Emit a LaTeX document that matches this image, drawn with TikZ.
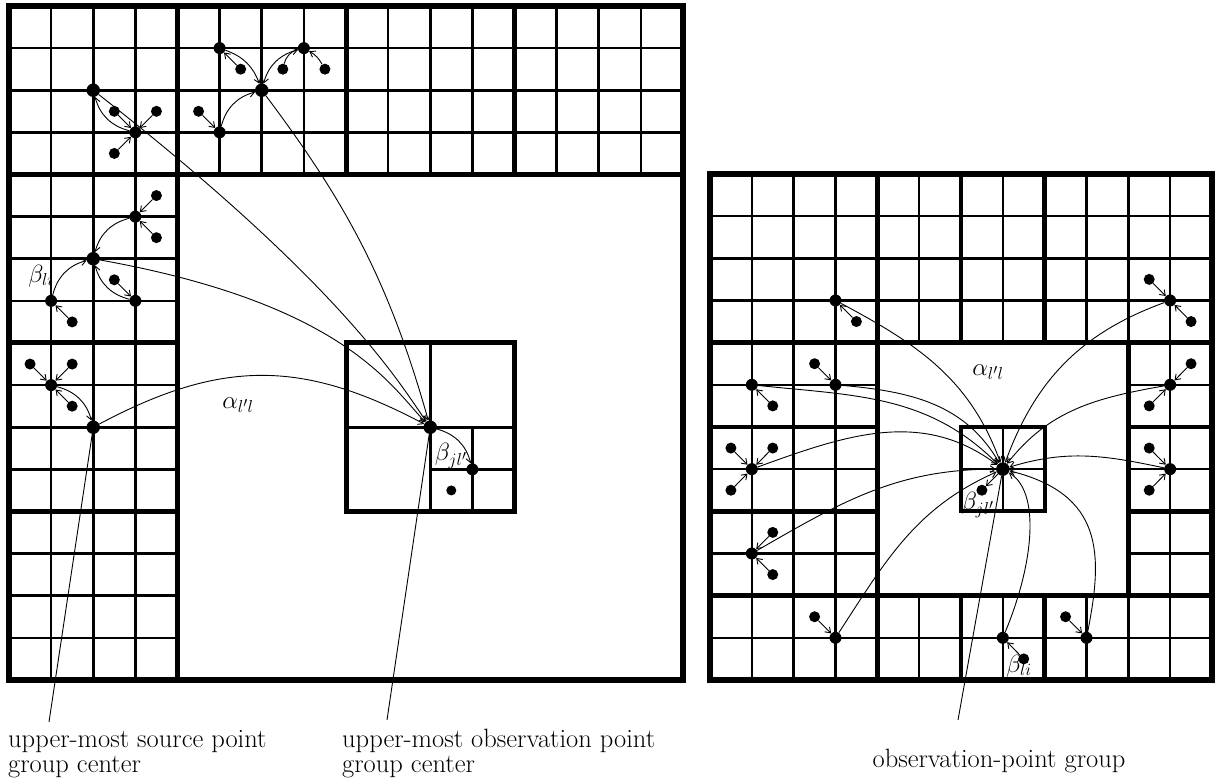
\documentclass[tikz,border=0pt]{standalone}
\usepackage{fontspec}
\usetikzlibrary{arrows.meta}
\begin{document}
\begin{tikzpicture}[x=1pt,y=1pt,
  thinl/.style={line width=2.3pt},
  medl/.style={line width=3.4pt},
  thkl/.style={line width=5pt},
  leaf/.style={circle,fill=black,inner sep=0pt,minimum size=11pt},
  mid/.style={circle,fill=black,inner sep=0pt,minimum size=12pt},
  ctr/.style={circle,fill=black,inner sep=0pt,minimum size=13.5pt},
  arr/.style={line width=0.9pt,-{Straight Barb[length=5pt,width=7pt]}},
  con/.style={line width=0.9pt},
  lbl/.style={inner sep=0pt,font=\fontsize{26.5}{25}\selectfont},
]
\useasboundingbox (0,0) rectangle (1215,782);

% ---------------- left grid ----------------
\begin{scope}[shift={(9,102)},x=42.125pt,y=42.125pt]
  \foreach \i in {1,...,15} \draw[thinl] (\i,12) -- (\i,16);
  \foreach \j in {13,14,15} \draw[thinl] (0,\j) -- (16,\j);
  \foreach \i in {1,2,3} \draw[thinl] (\i,0) -- (\i,12);
  \foreach \j in {1,...,11} \draw[thinl] (0,\j) -- (4,\j);
  \foreach \i in {2,6,10,14} \draw[medl] (\i,12) -- (\i,16);
  \draw[medl] (0,14) -- (16,14) (2,0) -- (2,12);
  \foreach \j in {2,6,10} \draw[medl] (0,\j) -- (4,\j);
  \draw[thkl] (4,0) -- (4,16) (8,12) -- (8,16) (12,12) -- (12,16)
              (0,12) -- (16,12) (0,4) -- (4,4) (0,8) -- (4,8);
  \draw[line width=5.5pt] (0,0) rectangle (16,16);
  % box
  \draw[thinl] (11,4) -- (11,6) (10,5) -- (12,5);
  \draw[medl] (10,4) -- (10,8) (8,6) -- (12,6);
  \draw[thkl] (8,4) rectangle (12,8);
  % dots
  \node[ctr] (T) at (6,14) {};
  \node[mid] (a) at (5,15) {};   \node[leaf] (a1) at (5.5,14.5) {};
  \node[mid] (b) at (7,15) {};   \node[leaf] (b1) at (6.5,14.5) {}; \node[leaf] (b2) at (7.5,14.5) {};
  \node[mid] (c) at (5,13) {};   \node[leaf] (c1) at (4.5,13.5) {};
  \node[ctr] (S1) at (2,14) {};
  \node[mid] (d) at (3,13) {};   \node[leaf] (d1) at (2.5,13.5) {}; \node[leaf] (d2) at (3.5,13.5) {}; \node[leaf] (d3) at (2.5,12.5) {};
  \node[ctr] (S2) at (2,10) {};
  \node[mid] (e) at (3,11) {};   \node[leaf] (e1) at (3.5,11.5) {}; \node[leaf] (e2) at (3.5,10.5) {};
  \node[mid] (f) at (1,9) {};    \node[leaf] (f1) at (1.5,8.5) {};
  \node[mid] (g) at (3,9) {};    \node[leaf] (g1) at (2.5,9.5) {};
  \node[ctr] (S3) at (2,6) {};
  \node[mid] (h) at (1,7) {};    \node[leaf] (h1) at (0.5,7.5) {}; \node[leaf] (h2) at (1.5,7.5) {}; \node[leaf] (h3) at (1.5,6.5) {};
  \node[ctr] (P) at (10,6) {};
  \node[mid] (p1) at (11,5) {};  \node[leaf,minimum size=10pt] (p2) at (10.5,4.5) {};
\end{scope}

% left connections
\draw[arr] (a1) -- (a);
\draw[arr] (b1) to[bend left=30] (b);
\draw[arr] (b2) to[bend right=15] (b);
\draw[arr] (c1) -- (c);
\draw[arr] (a) to[bend left=25] (T);
\draw[arr] (b) to[bend right=30] (T);
\draw[arr] (c) to[bend left=30] (T);
\draw[arr] (d1) -- (d); \draw[arr] (d2) -- (d); \draw[arr] (d3) -- (d);
\draw[arr] (d) to[bend left=30] (S1);
\draw[arr] (e1) -- (e); \draw[arr] (e2) -- (e);
\draw[arr] (e) to[bend right=30] (S2);
\draw[arr] (f1) -- (f); \draw[arr] (f) to[bend left=30] (S2);
\draw[arr] (g1) -- (g); \draw[arr] (g) to[bend left=30] (S2);
\draw[arr] (h1) -- (h); \draw[arr] (h2) -- (h); \draw[arr] (h3) -- (h);
\draw[arr] (h) to[bend left=30] (S3);
\draw[arr] (T) .. controls +(88,-117) and +(-40,141) .. (P);
\draw[arr] (S1) .. controls +(250,-196) and +(-30,43) .. (P);
\draw[arr] (S2) .. controls +(250,-45) and +(-40,42) .. (P);
\draw[arr] (S3) .. controls +(128,68) and +(-128,68) .. (P);
\draw[arr] (P) to[bend left=30] (p1);

% ---------------- right grid ----------------
\begin{scope}[shift={(710,102)},x=41.83pt,y=42.17pt]
  \foreach \i in {1,...,11} \draw[thinl] (\i,8) -- (\i,12) (\i,0) -- (\i,2);
  \foreach \j in {9,10,11,1} \draw[thinl] (0,\j) -- (12,\j);
  \foreach \i in {1,2,3,11} \draw[thinl] (\i,2) -- (\i,8);
  \foreach \j in {3,...,7} \draw[thinl] (0,\j) -- (4,\j) (10,\j) -- (12,\j);
  \foreach \i in {2,6,10} \draw[medl] (\i,8) -- (\i,12) (\i,0) -- (\i,2);
  \draw[medl] (0,10) -- (12,10) (2,2) -- (2,8) (0,6) -- (4,6) (10,6) -- (12,6);
  \draw[thkl] (4,8) -- (4,12) (8,8) -- (8,12) (4,0) -- (4,2) (8,0) -- (8,2)
              (4,2) -- (4,8) (10,2) -- (10,8) (0,8) -- (12,8) (0,2) -- (12,2)
              (0,4) -- (4,4) (10,4) -- (12,4);
  \draw[line width=5.5pt] (0,0) rectangle (12,12);
  \draw[thinl] (7,4) -- (7,6) (6,5) -- (8,5);
  \draw[line width=4pt] (6,4) rectangle (8,6);
  % dots
  \node[ctr] (O) at (7,5) {};      \node[leaf] (o1) at (6.5,4.5) {};
  \node[mid] (r1) at (3,9) {};     \node[leaf] (r1a) at (3.5,8.5) {};
  \node[mid] (r2) at (1,7) {};     \node[leaf] (r2a) at (1.5,6.5) {};
  \node[mid] (r3) at (3,7) {};     \node[leaf] (r3a) at (2.5,7.5) {};
  \node[mid] (r4) at (1,5) {};     \node[leaf] (r4a) at (0.5,5.5) {}; \node[leaf] (r4b) at (1.5,5.5) {}; \node[leaf] (r4c) at (0.5,4.5) {};
  \node[mid] (r5) at (1,3) {};     \node[leaf] (r5a) at (1.5,3.5) {}; \node[leaf] (r5b) at (1.5,2.5) {};
  \node[mid] (r6) at (3,1) {};     \node[leaf] (r6a) at (2.5,1.5) {};
  \node[mid] (r7) at (7,1) {};     \node[leaf] (r7a) at (7.5,0.5) {};
  \node[mid] (r8) at (9,1) {};     \node[leaf] (r8a) at (8.5,1.5) {};
  \node[mid] (r9) at (11,5) {};    \node[leaf] (r9a) at (10.5,5.5) {}; \node[leaf] (r9b) at (10.5,4.5) {};
  \node[mid] (r10) at (11,7) {};   \node[leaf] (r10a) at (11.5,7.5) {}; \node[leaf] (r10b) at (10.5,6.5) {};
  \node[mid] (r11) at (11,9) {};   \node[leaf] (r11a) at (10.5,9.5) {}; \node[leaf] (r11b) at (11.5,8.5) {};
\end{scope}

% right connections
\draw[arr] (O) -- (o1);
\foreach \g/\l in {r1/r1a,r2/r2a,r3/r3a,r4/r4a,r4/r4b,r4/r4c,r5/r5a,r5/r5b,r6/r6a,r7/r7a,r8/r8a,r9/r9a,r9/r9b,r10/r10a,r10/r10b,r11/r11a,r11/r11b}
  \draw[arr] (\l) -- (\g);
\draw[arr] (r1) to[out=-28,in=110] (O);
\draw[arr] (r2) to[out=-6,in=135] (O);
\draw[arr] (r3) to[out=-5,in=120] (O);
\draw[arr] (r4) to[out=20,in=143] (O);
\draw[arr] (r5) to[out=30,in=180] (O);
\draw[arr] (r6) to[out=57,in=-156] (O);
\draw[arr] (r7) .. controls +(32,77) and +(37,-22) .. (O);
\draw[arr] (r8) .. controls +(17,85) and +(100,-25) .. (O);
\draw[arr] (r9) to[out=168,in=17] (O);
\draw[arr] (r10) to[out=190,in=52] (O);
\draw[arr] (r11) to[out=200,in=70] (O);

% pointer lines
\coordinate (q1) at (49,60);
\coordinate (q2) at (387,62);
\coordinate (q3) at (958,62);
\draw[con] (S3) -- (q1);
\draw[con] (P) -- (q2);
\draw[con] (O) -- (q3);

% labels
\node[lbl] (bl1) at (41,506) {$\beta_{li}$};
\node[lbl] (al1) at (238,377) {$\alpha_{l'l}$};
\node[lbl] (bj1) at (451,326) {$\beta_{jl'}$};
\node[lbl] (al2) at (988,410) {$\alpha_{l'l}$};
\node[lbl] (bj2) at (978,277) {$\beta_{jl'}$};
\node[lbl] (bl2) at (1019,116) {$\beta_{li}$};

\node[lbl,anchor=base west] (t1) at (8,35) {upper-most source point};
\node[lbl,anchor=base west] (t2) at (8,10) {group center};
\node[lbl,anchor=base west] (t3) at (342,35) {upper-most observation point};
\node[lbl,anchor=base west] (t4) at (342,10) {group center};
\node[lbl,anchor=base] (t5) at (999,15) {observation-point group};
\end{tikzpicture}
\end{document}
